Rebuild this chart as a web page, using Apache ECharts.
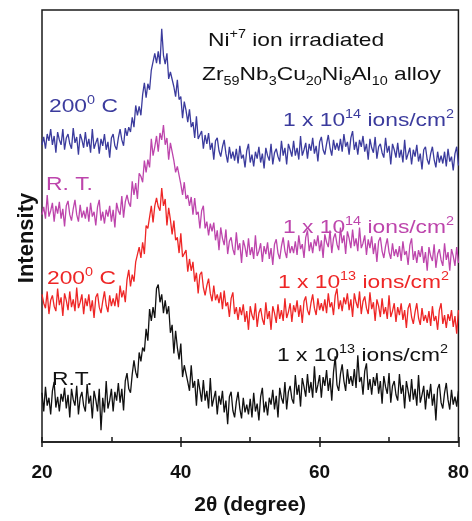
<!DOCTYPE html>
<html lang="en" style="height: 100%">

<head>
    <meta charset="utf-8">
</head>

<body style="height: 100%; margin: 0; background: #fff">
    <div id="container" style="width: 472px; height: 521px"></div>
    <script type="text/javascript" src="https://fastly.jsdelivr.net/npm/echarts@6.0.0/dist/echarts.min.js"></script>
    <script type="text/javascript">
    // scan: 20 - 80 deg, step 0.25 deg
    const scanStart = 20;
    const scanStep = 0.25;
    const xTicks = [20, 40, 60, 80];

    // intensity (a.u., offset stacked as in the figure)
    const rt13 = [
        50,31,56,37, 45,28,52,61, 35,46,31,49, 41,55,34,48, 25,54,43,37, 57,28,45,51, 37,31,59,39, 47,24,52,43,
        31,54,12,45, 30,62,34,42, 54,31,51,42, 60,40,54,32, 62,70,54,50, 69,83,71,65, 91,82,96,92, 115,103,135,123,
        137,126,156,160, 142,150,131,144, 130,138,111,119, 90,113,96,84, 100,66,78,79, 61,52,78,55, 62,37,64,53,
        41,63,42,52, 34,65,36,44, 52,28,47,38, 52,30,42,18, 46,51,32,25, 41,51,34,24, 45,30,38,28, 44,25,50,31,
        39,22,46,55, 30,41,27,45, 38,53,33,47, 25,55,45,39, 61,33,51,57, 44,39,68,48, 58,36,65,56, 46,69,50,61,
        45,77,50,58, 68,45,66,57, 73,52,65,42, 71,87,58,52, 69,79,62,52, 74,59,67,57, 74,55,88,61, 66,48,72,80,
        53,64,48,66, 57,70,49,62, 39,67,56,49, 70,40,57,62, 48,42,69,49, 58,34,62,52, 41,64,43,54, 37,68,40,48,
        57,33,53,44, 59,37,49,22, 54,59,40,34, 50,60,43,33, 53,38,46,36, 52
    ];
    const hot13 = [
        150,141,136,153, 130,144,149,138, 133,156,139,147, 128,151,144,134, 153,137,145,133, 157,136,142,150,
        130,146,138,150, 133,144,126,147, 151,137,131,143, 153,139,132,149, 138,146,138,151, 137,159,147,154,
        142,165,175,158, 170,163,183,181, 198,187,203,191, 220,217,218,240, 223,240,248,239, 235,258,240,247,
        220,238,226,211, 225,205,208,192, 212,188,190,195, 173,186,174,183, 163,172,151,170, 173,157,149,159,
        166,151,143,159, 144,150,141,152, 135,154,138,142, 127,146,152,130, 137,124,137,129, 140,122,133,114,
        138,129,124,141, 117,131,136,125, 119,142,125,133, 114,138,131,121, 140,125,134,123, 146,126,132,141,
        122,139,132,144, 127,139,121,143, 148,134,129,141, 150,136,129,146, 134,141,133,145, 131,151,137,142,
        129,149,156,135, 144,133,147,140, 151,134,145,127, 151,142,136,153, 130,143,148,136, 130,152,135,142,
        123,145,138,127, 146,130,137,125, 149,127,133,141, 122,137,129,141, 124,134,116,136, 141,127,120,132,
        141,126,119,136, 123,129,121,133, 118,138,123,128, 114,134,141,120, 129,116,130,123, 134,117,128,110, 134
    ];
    const rt14 = [
        231,239,227,251, 229,235,243,224, 240,232,244,227, 237,219,240,245, 231,225,237,246, 231,224,241,228,
        235,227,239,224, 243,229,234,220, 239,246,225,234, 222,236,229,240, 224,236,218,243, 235,231,250,228,
        244,251,243,239, 265,251,263,247, 273,270,264,286, 274,287,279,308, 291,300,311,295, 314,307,322,302,
        309,287,304,304, 286,274,280,282, 262,251,264,247, 251,240,249,231, 248,231,234,217, 235,240,217,224,
        210,222,214,223, 205,215,195,218, 207,200,216,191, 204,208,196,190, 213,195,202,182, 205,198,188,207,
        190,198,186,210, 189,194,202,183, 199,191,203,186, 197,180,201,206, 192,186,199,208, 194,187,205,192,
        199,192,204,190, 210,196,201,187, 208,215,194,203, 192,206,199,210, 194,205,187,211, 203,198,215,192,
        207,212,201,195, 218,202,210,191, 214,207,197,216, 199,207,194,218, 197,202,210,190, 206,197,209,191,
        202,183,204,208, 194,187,199,207, 193,186,202,189, 196,188,199,184, 204,190,194,180, 200,207,185,194,
        182,195,188,199, 182,193,174,198, 189,184,201,177, 191,196,185,179, 202,185,193,174, 196,189,179,198, 182
    ];
    const hot14 = [
        302,310,298,313, 306,318,302,311, 294,315,307,302, 318,297,309,313, 303,298,319,304, 310,292,313,307,
        299,315,300,308, 294,318,298,304, 309,293,308,301, 313,297,305,289, 309,313,301,297, 309,318,307,301,
        319,311,320,315, 330,320,342,332, 341,332,353,365, 350,364,358,378, 377,395,385,397, 384,420,393,384,
        395,369,376,375, 361,351,368,348, 351,329,346,337, 325,338,320,325, 309,331,308,312, 316,298,312,303,
        314,297,304,287, 306,309,296,290, 300,307,293,284, 300,288,295,286, 298,283,301,288, 292,279,296,303,
        284,292,280,295, 288,300,284,293, 278,299,291,286, 303,282,294,298, 290,285,306,291, 299,282,303,297,
        290,306,291,299, 287,311,291,297, 304,288,303,296, 309,293,301,285, 305,310,297,292, 303,312,299,291,
        307,297,304,296, 308,295,313,300, 305,292,309,316, 297,305,292,307, 300,311,295,303, 287,308,299,294,
        310,288,300,303, 294,289,309,294, 301,282,303,297, 289,304,289,297, 284,307,287,293, 299,282,297,290,
        302,285,293,277, 297,300,287,282, 293,300,287,279, 295,284,291,283, 295,280,298,285, 290,276,293,300, 281
    ];

    const blue = '#3b3b9d';
    const magenta = '#bd45ac';
    const red = '#ee2626';
    const black = '#111111';
    const font = "Arial, 'Liberation Sans', sans-serif";

    function pairs(values) {
        return values.map((v, i) => [scanStart + i * scanStep, v]);
    }

    const rich = function (color) {
        return {
            t: { fontSize: 19, lineHeight: 24, fontFamily: font, fill: color, verticalAlign: 'bottom' },
            sup: { fontSize: 12, lineHeight: 12, fontFamily: font, fill: color, verticalAlign: 'top', padding: [3, 0, 0, 0] },
            sub: { fontSize: 12, lineHeight: 12, fontFamily: font, fill: color, verticalAlign: 'bottom', padding: [0, 0, -4, 0] }
        };
    };

    function note(x, y, text, color) {
        return {
            type: 'text',
            x: x,
            y: y,
            scaleX: 1.2,
            z: 100,
            style: {
                text: text,
                rich: rich(color),
                fill: color,
                align: 'left',
                verticalAlign: 'middle'
            }
        };
    }

    var dom = document.getElementById('container');
    var myChart = echarts.init(dom, null, { renderer: 'canvas' });

    var option = {
        animation: false,
        backgroundColor: '#fff',
        grid: {
            left: 42,
            right: 11,
            top: 10,
            bottom: 72,
            show: true,
            borderColor: '#1a1a1a',
            borderWidth: 1.5
        },
        xAxis: [{
                type: 'value',
                min: 20,
                max: 80,
                interval: 20,
                position: 'bottom',
                axisLine: { onZero: false, lineStyle: { color: '#1a1a1a', width: 1.5 } },
                axisTick: { length: 5, lineStyle: { color: '#1a1a1a', width: 1.5 } },
                splitLine: { show: false },
                axisLabel: {
                    margin: 21,
                    fontSize: 19,
                    fontWeight: 'bold',
                    fontFamily: font,
                    color: '#111',
                    formatter: v => xTicks.includes(v) ? String(v) : ''
                },
                name: '2θ (degree)',
                nameLocation: 'middle',
                nameGap: 53,
                nameTextStyle: { fontSize: 21, fontWeight: 'bold', fontFamily: font, color: '#111' }
            },
            {
                type: 'value',
                min: 20,
                max: 80,
                interval: 10,
                position: 'bottom',
                axisLine: { show: false, onZero: false },
                axisTick: { inside: true, length: 5, lineStyle: { color: '#1a1a1a', width: 1.5 } },
                axisLabel: { show: false },
                splitLine: { show: false }
            }
        ],
        yAxis: {
            type: 'value',
            min: 0,
            max: 439,
            axisLine: { show: false },
            axisTick: { show: false },
            axisLabel: { show: false },
            splitLine: { show: false },
            name: 'Intensity',
            nameLocation: 'middle',
            nameGap: 4,
            nameTextStyle: {
                fontSize: 22,
                fontWeight: 'bold',
                fontFamily: font,
                color: '#111',
                padding: [0, 24, 0, 0]
            }
        },
        series: [{
                name: '200 C, 1e14',
                type: 'line',
                data: pairs(hot14),
                symbol: 'none',
                lineStyle: { color: blue, width: 1.3 }
            },
            {
                name: 'R.T., 1e14',
                type: 'line',
                data: pairs(rt14),
                symbol: 'none',
                lineStyle: { color: magenta, width: 1.3 }
            },
            {
                name: '200 C, 1e13',
                type: 'line',
                data: pairs(hot13),
                symbol: 'none',
                lineStyle: { color: red, width: 1.3 }
            },
            {
                name: 'R.T., 1e13',
                type: 'line',
                data: pairs(rt13),
                symbol: 'none',
                lineStyle: { color: black, width: 1.3 }
            }
        ],
        graphic: [
            note(208, 38, '{t|Ni}{sup|+7}{t| ion irradiated}', '#111'),
            note(202, 72, '{t|Zr}{sub|59}{t|Nb}{sub|3}{t|Cu}{sub|20}{t|Ni}{sub|8}{t|Al}{sub|10}{t| alloy}', '#111'),
            note(49, 104, '{t|200}{sup|0}{t| C}', blue),
            note(283, 118, '{t|1 x 10}{sup|14}{t| ions/cm}{sup|2}', blue),
            note(46, 182, '{t|R. T.}', magenta),
            note(283, 225, '{t|1 x 10}{sup|14}{t| ions/cm}{sup|2}', magenta),
            note(47, 276, '{t|200}{sup|0}{t| C}', red),
            note(278, 280, '{t|1 x 10}{sup|13}{t| ions/cm}{sup|2}', red),
            note(52, 377, '{t|R.T.}', '#111'),
            note(277, 353, '{t|1 x 10}{sup|13}{t| ions/cm}{sup|2}', '#111')
        ]
    };

    myChart.setOption(option);
    window.addEventListener('resize', myChart.resize);
    </script>
</body>

</html>
